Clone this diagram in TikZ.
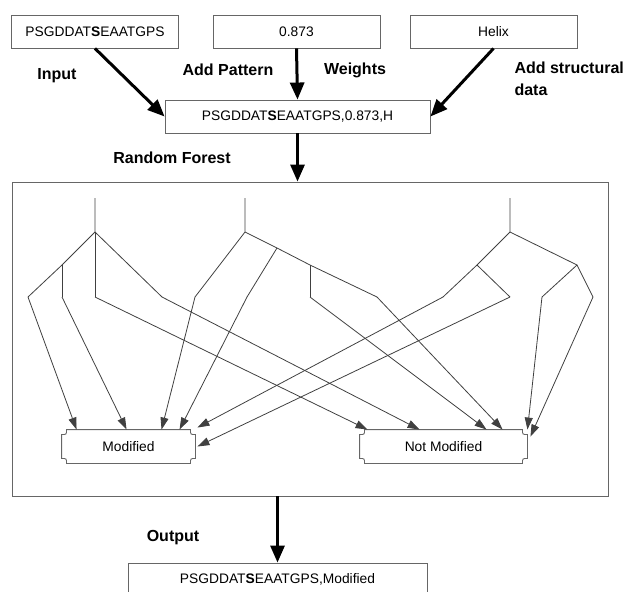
\documentclass[tikz,border=0pt]{standalone}
\usepackage{fontspec}
\setmainfont{Liberation Sans}
\usetikzlibrary{arrows.meta}

\tikzset{
    databox/.style={draw=black!60, line width=0.9pt, minimum width=167pt, minimum height=33pt,
        inner sep=0pt, font=\fontsize{13.8}{16}\selectfont},
    leafbox/.style={databox, draw=none},
    lbl/.style={font=\fontsize{16}{22}\selectfont\bfseries, align=left},
    bigarrow/.style={line width=3pt, -{Triangle[length=17pt,width=14pt]}},
    branch/.style={draw=black!75, line width=0.8pt},
    vote/.style={branch, -{Triangle[length=12pt,width=8pt]}},
    boxline/.style={draw=black!60, line width=0.9pt}
}

% box with notched corners round an existing node
\newcommand\cutbox[1]{%
    \draw[boxline] ([xshift=5pt]#1.north west) -- ([xshift=-5pt]#1.north east)
        .. controls ([xshift=-5pt,yshift=-5pt]#1.north east) .. ([yshift=-5pt]#1.north east)
        -- ([yshift=5pt]#1.south east)
        .. controls ([xshift=-5pt,yshift=5pt]#1.south east) .. ([xshift=-5pt]#1.south east)
        -- ([xshift=5pt]#1.south west)
        .. controls ([xshift=5pt,yshift=5pt]#1.south west) .. ([yshift=5pt]#1.south west)
        -- ([yshift=-5pt]#1.north west)
        .. controls ([xshift=5pt,yshift=-5pt]#1.north west) .. ([xshift=5pt]#1.north west)
        -- cycle;}

\begin{document}
\begin{tikzpicture}[x=1pt, y=-1pt]
    \useasboundingbox (0,0) rectangle (627,592);

    % input side
    \node[databox] (in) at (95,31.5) {PSGDDAT\textbf{S}EAATGPS};
    \node[databox] (pat) at (296.5,31.5) {0.873};
    \node[databox] (hel) at (493.5,31.5) {Helix};
    \node[databox, minimum width=265pt] (mid) at (297.5,116.5) {PSGDDAT\textbf{S}EAATGPS,0.873,H};
    \node[lbl] (linput) at (57,76) {Input};
    \node[lbl] (lpat) at (228,70) {Add Pattern};
    \node[lbl] (lwts) at (355,70) {Weights};
    \node[lbl, anchor=north west] (lstruct) at (511,58) {Add structural\\data};
    \node[lbl] (lforest) at (172,158) {Random Forest};
    \draw[bigarrow] (in.south) -- (mid.west);
    \draw[bigarrow] (pat.south) -- (mid.north);
    \draw[bigarrow] (hel.south) -- (mid.east);

    % the forest
    \node[draw=black!60, line width=0.9pt, minimum width=596pt, minimum height=314pt] (rf) at (310,339) {};
    \draw[bigarrow] (mid.south) -- (mid.south |- rf.north);
    \node[leafbox, minimum width=133pt] (mod) at (128.5,446.5) {Modified};
    \node[leafbox] (nmod) at (443.5,446.5) {Not Modified};
    \cutbox{mod}
    \cutbox{nmod}

    % tree one
    \coordinate (t1) at (95,198);
    \coordinate (s1) at (95,232);
    \coordinate (k1) at (62,265);
    \coordinate (p1) at (28,297);
    \coordinate (q1) at (62,297);
    \coordinate (u1) at (95,297);
    \coordinate (v1) at (162,297);
    \draw[branch] (t1) -- (s1) -- (k1) -- (p1);
    \draw[branch] (k1) -- (q1);
    \draw[branch] (s1) -- (u1);
    \draw[branch] (s1) -- (v1);
    \draw[vote] (p1) -- ([xshift=15pt]mod.north west);
    \draw[vote] (q1) -- ([xshift=65pt]mod.north west);
    \draw[vote] (u1) -- ([xshift=8pt]nmod.north west);
    \draw[vote] (v1) -- ([xshift=60pt]nmod.north west);

    % tree two
    \coordinate (t2) at (245,198);
    \coordinate (s2) at (245,232);
    \coordinate (p2) at (195,297);
    \coordinate (k2) at (277,248);
    \coordinate (m2) at (310,265);
    \coordinate (q2) at (247,297);
    \coordinate (u2) at (310,297);
    \coordinate (v2) at (377,297);
    \draw[branch] (t2) -- (s2) -- (p2);
    \draw[branch] (s2) -- (k2) -- (m2) -- (v2);
    \draw[branch] (k2) -- (q2);
    \draw[branch] (m2) -- (u2);
    \draw[vote] (p2) -- ([xshift=100pt]mod.north west);
    \draw[vote] (q2) -- ([xshift=118pt]mod.north west);
    \draw[vote] (u2) -- ([xshift=127pt]nmod.north west);
    \draw[vote] (v2) -- ([xshift=143pt]nmod.north west);

    % tree three
    \coordinate (t3) at (510,198);
    \coordinate (s3) at (510,232);
    \coordinate (k3) at (477,265);
    \coordinate (p3) at (443,297);
    \coordinate (q3) at (510,297);
    \coordinate (m3) at (577,265);
    \coordinate (u3) at (542,297);
    \coordinate (v3) at (593,297);
    \draw[branch] (t3) -- (s3) -- (k3) -- (p3);
    \draw[branch] (k3) -- (q3);
    \draw[branch] (s3) -- (m3) -- (u3);
    \draw[branch] (m3) -- (v3);
    \draw[vote] (p3) -- ([xshift=2pt,yshift=2pt]mod.north east);
    \draw[vote] (q3) -- ([xshift=2pt]mod.east);
    \draw[vote] (u3) -- (nmod.north east);
    \draw[vote] (v3) -- ([xshift=3pt,yshift=-7pt]nmod.north east);

    % output
    \node[databox, minimum width=299pt] (out) at (277.5,579.5) {PSGDDAT\textbf{S}EAATGPS,Modified};
    \node[lbl] (lout) at (173,538) {Output};
    \draw[bigarrow] (out.north |- rf.south) -- (out.north);
\end{tikzpicture}
\end{document}
